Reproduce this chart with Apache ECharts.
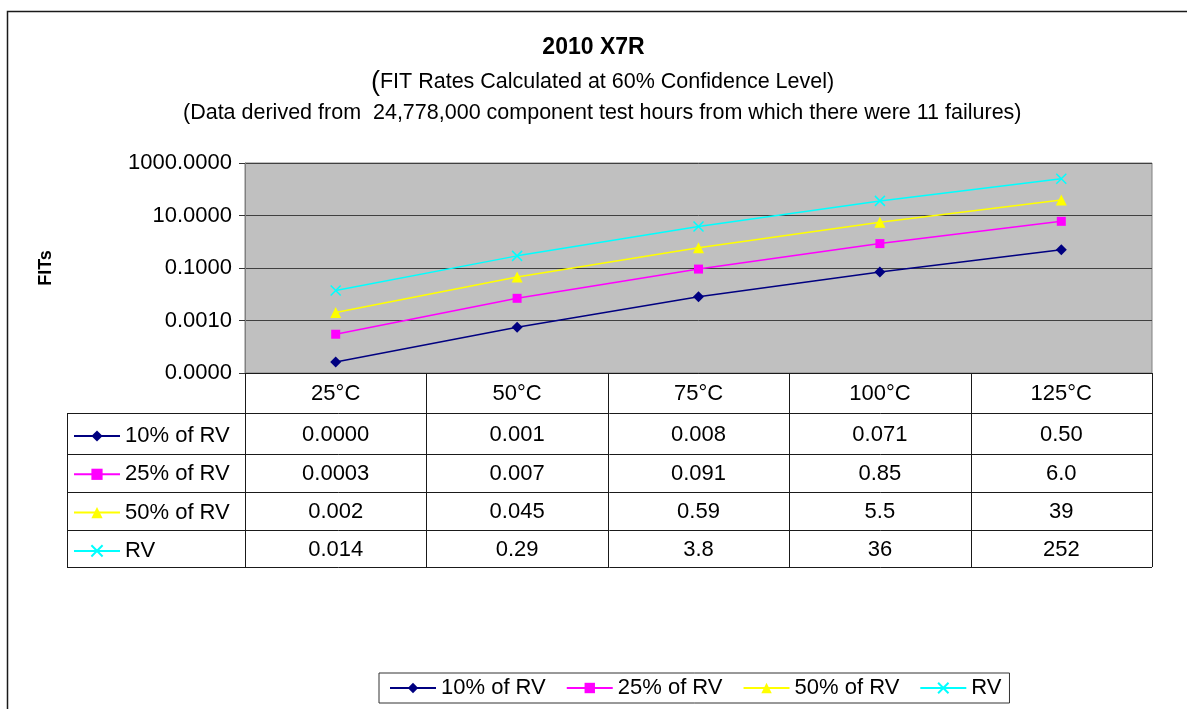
<!DOCTYPE html>
<html>
<head>
<meta charset="utf-8">
<script src="https://cdn.jsdelivr.net/npm/echarts@6/dist/echarts.min.js"></script>
<style>
html,body{margin:0;padding:0;background:#fff;}
#chart{width:1187px;height:709px;}
</style>
</head>
<body>
<div id="chart"></div>
<script>
// ---- data ----
const categories = ['25°C', '50°C', '75°C', '100°C', '125°C'];
const seriesNames = ['10% of RV', '25% of RV', '50% of RV', 'RV'];
const rv10 = [0.000026, 0.00055, 0.008, 0.071, 0.50];
const rv25 = [0.0003, 0.007, 0.091, 0.85, 6.0];
const rv50 = [0.002, 0.045, 0.59, 5.5, 39];
const rvFull = [0.014, 0.29, 3.8, 36, 252];
// data table texts as shown in the reference
const table10 = ['0.0000', '0.001', '0.008', '0.071', '0.50'];
const table25 = ['0.0003', '0.007', '0.091', '0.85', '6.0'];
const table50 = ['0.002', '0.045', '0.59', '5.5', '39'];
const tableRV = ['0.014', '0.29', '3.8', '36', '252'];

// ---- layout ----
const FONT = '"Liberation Sans", Arial, sans-serif';
const FS = 22;
const G = { left: 245, top: 163, width: 907, height: 210 };
const rowLines = [413, 454, 492, 530, 567];
const tableLeft = 67;
const colors = ['#000080', '#FF00FF', '#FFFF00', '#00FFFF'];
const symbols = ['diamond', 'rect', 'triangle', 'path://M0,0L10,10M10,0L0,10'];
const symbolSizes = [11, 9, 11, 10];
const seriesValues = [rv10, rv25, rv50, rvFull];
const tableTexts = [table10, table25, table50, tableRV];

const chart = echarts.init(document.getElementById('chart'), null, { renderer: 'canvas' });

const series = seriesNames.map((name, i) => ({
  name: name,
  type: 'line',
  data: seriesValues[i],
  symbol: symbols[i],
  symbolSize: symbolSizes[i],
  showAllSymbol: true,
  lineStyle: { color: colors[i], width: 1.5 },
  itemStyle: { color: colors[i], borderColor: colors[i], borderWidth: i === 3 ? 1.5 : 0 },
  emphasis: { disabled: true },
  animation: false,
  z: 3
}));

// outer frame + data table graphics
const graphics = [];
graphics.push({
  type: 'rect', silent: true,
  shape: { x: 7.5, y: 11.5, width: 1300, height: 800 },
  style: { fill: 'none', stroke: '#1a1a1a', lineWidth: 1.5 }
});
const colW = G.width / categories.length;
const tableBottom = rowLines[rowLines.length - 1];
for (let i = 0; i <= categories.length; i++) {
  const x = Math.round(G.left + i * colW) + 0.5;
  graphics.push({ type: 'line', silent: true,
    shape: { x1: x, y1: G.top + G.height, x2: x, y2: tableBottom },
    style: { stroke: '#1a1a1a', lineWidth: 1 } });
}
graphics.push({ type: 'line', silent: true,
  shape: { x1: tableLeft + 0.5, y1: rowLines[0], x2: tableLeft + 0.5, y2: tableBottom },
  style: { stroke: '#1a1a1a', lineWidth: 1 } });
rowLines.forEach(y => {
  graphics.push({ type: 'line', silent: true,
    shape: { x1: tableLeft, y1: y + 0.5, x2: G.left + G.width, y2: y + 0.5 },
    style: { stroke: '#1a1a1a', lineWidth: 1 } });
});
tableTexts.forEach((row, r) => {
  const yc = (rowLines[r] + rowLines[r + 1]) / 2 + 1;
  row.forEach((t, c) => {
    graphics.push({ type: 'text', silent: true,
      x: G.left + (c + 0.5) * colW, y: yc,
      style: { text: t, font: FS + 'px ' + FONT, fill: '#000', align: 'center', verticalAlign: 'middle' } });
  });
});

const option = {
  animation: false,
  backgroundColor: '#ffffff',
  textStyle: { fontFamily: FONT },
  title: [
    { text: '2010 X7R', left: 'center', top: 36, padding: 0,
      textStyle: { fontFamily: FONT, fontSize: 23, fontWeight: 'bold', color: '#000' } },
    { text: '{big|(}FIT Rates Calculated at 60% Confidence Level)', left: 371, top: 69, padding: 0,
      textStyle: { fontFamily: FONT, fontSize: 21.5, fontWeight: 'normal', color: '#000',
        rich: { big: { fontFamily: FONT, fontSize: 27, color: '#000' } } } },
    { text: '(Data derived from  24,778,000 component test hours from which there were 11 failures)',
      left: 183, top: 102, padding: 0,
      textStyle: { fontFamily: FONT, fontSize: 21.5, fontWeight: 'normal', color: '#000' } }
  ],
  grid: {
    left: G.left, top: G.top, width: G.width, height: G.height,
    show: true, backgroundColor: '#C0C0C0', borderColor: '#808080', borderWidth: 1,
    containLabel: false
  },
  legend: [
    {
      data: seriesNames, left: 379, top: 673, orient: 'horizontal',
      itemWidth: 46, itemHeight: 13, itemGap: 20,
      padding: [4, 8, 4, 10],
      borderColor: '#333', borderWidth: 1,
      textStyle: { fontFamily: FONT, fontSize: FS, color: '#000' },
      selectedMode: false
    },
    {
      data: seriesNames, left: 73, top: 425, orient: 'vertical',
      itemWidth: 46, itemHeight: 14, itemGap: 16.3,
      padding: 0,
      textStyle: { fontFamily: FONT, fontSize: FS, color: '#000', lineHeight: 22 },
      selectedMode: false
    }
  ],
  xAxis: {
    type: 'category', data: categories, boundaryGap: true,
    axisLine: { show: true, lineStyle: { color: '#1a1a1a', width: 1 } },
    axisTick: { show: false },
    axisLabel: { fontFamily: FONT, fontSize: FS, color: '#000', margin: 10 },
    splitLine: { show: false }
  },
  yAxis: {
    type: 'log', logBase: 10, min: 0.00001, max: 1000, interval: 2,
    name: 'FITs', nameLocation: 'middle', nameRotate: 90, nameGap: 190,
    nameTextStyle: { fontFamily: FONT, fontSize: 18, fontWeight: 'bold', color: '#000' },
    axisLine: { show: true, lineStyle: { color: '#808080' } },
    axisTick: { show: true, length: 6, lineStyle: { color: '#333' } },
    axisLabel: { fontFamily: FONT, fontSize: FS, color: '#000', margin: 13,
      formatter: v => Number(v).toFixed(4) },
    splitLine: { show: true, lineStyle: { color: '#404040', width: 1 } }
  },
  series: series,
  graphic: graphics
};
chart.setOption(option);
</script>
</body>
</html>
